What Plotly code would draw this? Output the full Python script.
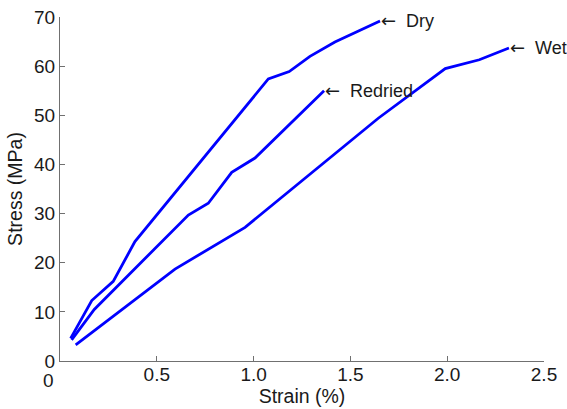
import plotly.graph_objects as go

# Data
dry_strain = [0.055, 0.164, 0.275, 0.387, 1.076, 1.184, 1.291, 1.42, 1.653]
dry_stress = [4.6, 12.3, 16.2, 24.3, 57.4, 58.9, 62.0, 64.9, 69.2]

redried_strain = [0.06, 0.177, 0.663, 0.766, 0.887, 1.007, 1.364]
redried_stress = [4.3, 10.5, 29.7, 32.1, 38.4, 41.3, 55.0]

wet_strain = [0.081, 0.594, 0.956, 1.644, 1.99, 2.166, 2.319]
wet_stress = [3.26, 18.7, 27.2, 49.4, 59.5, 61.3, 63.7]

labels = ["Dry", "Redried", "Wet"]

x_ticks = [0, 0.5, 1.0, 1.5, 2.0, 2.5]
x_ticktext = ["", "0.5", "1.0", "1.5", "2.0", "2.5"]
y_ticks = [0, 10, 20, 30, 40, 50, 60, 70]

FONT = "Liberation Sans, Arial, sans-serif"
AX = "#707070"
TXT = "#1a1a1a"

fig = go.Figure()
series = [(dry_strain, dry_stress), (redried_strain, redried_stress), (wet_strain, wet_stress)]
for (xs, ys), name in zip(series, labels):
    fig.add_trace(go.Scatter(x=xs, y=ys, mode="lines", name=name,
                             line=dict(color="#0000ff", width=2.8), showlegend=False))
    fig.add_annotation(x=xs[-1], y=ys[-1], xref="x", yref="y",
                       text="<span style='font-family:DejaVu Sans'>\u2190</span>  " + name,
                       showarrow=False, xanchor="left", yanchor="middle", xshift=-1,
                       font=dict(family=FONT, size=18, color=TXT))

# shifted "0" label on the x axis, as in the reference
fig.add_annotation(x=x_ticks[0], y=0, xref="x", yref="paper", text="0", showarrow=False,
                   xanchor="center", yanchor="top", xshift=-12, yshift=-7,
                   font=dict(family=FONT, size=19, color=TXT))

fig.update_layout(
    width=567, height=409,
    margin=dict(l=60, r=23, t=17, b=48, autoexpand=False),
    paper_bgcolor="white", plot_bgcolor="white",
    font=dict(family=FONT, size=19, color=TXT),
)
fig.update_xaxes(range=[0, 2.5], tickvals=x_ticks, ticktext=x_ticktext,
                 showline=True, linecolor=AX, linewidth=1, mirror=False,
                 ticks="inside", ticklen=5, tickcolor=AX, tickwidth=1,
                 showgrid=False, zeroline=False, ticklabelstandoff=-4,
                 tickfont=dict(family=FONT, size=19, color=TXT),
                 title=dict(text="Strain (%)", font=dict(family=FONT, size=19.5, color=TXT), standoff=2))
fig.update_yaxes(range=[0, 70], tickvals=y_ticks,
                 showline=True, linecolor=AX, linewidth=1, mirror=False,
                 ticks="inside", ticklen=5, tickcolor=AX, tickwidth=1,
                 showgrid=False, zeroline=False,
                 tickfont=dict(family=FONT, size=19, color=TXT),
                 title=dict(text="Stress (MPa)", font=dict(family=FONT, size=19.5, color=TXT), standoff=6))

fig.write_html("out.html")
